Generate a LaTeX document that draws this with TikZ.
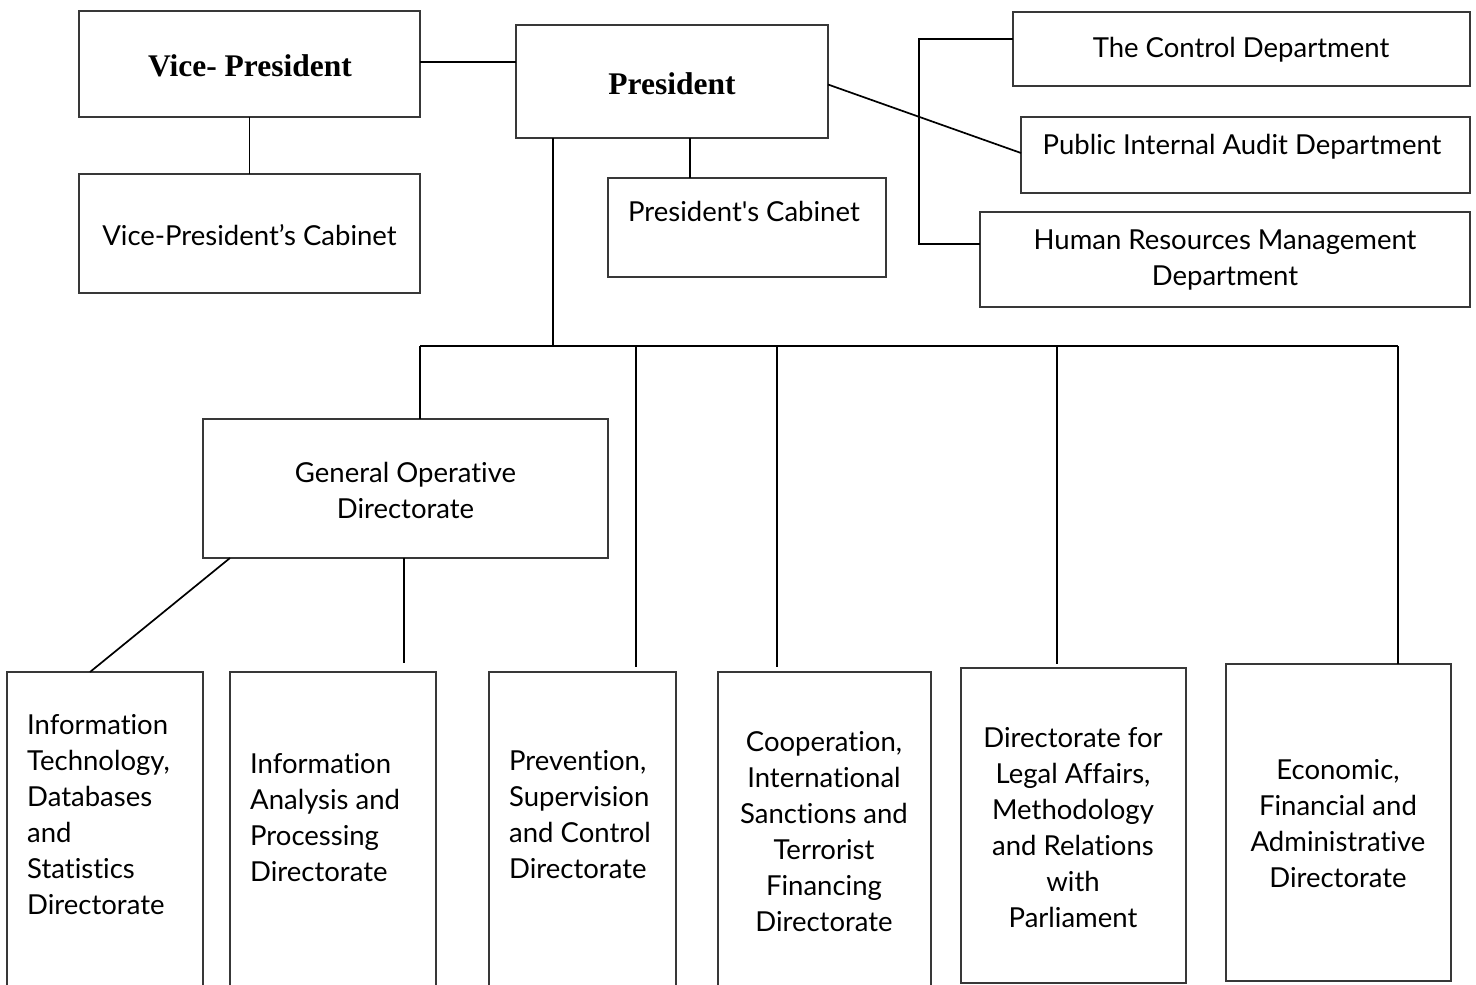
\documentclass[tikz,border=0pt]{standalone}
\usepackage{fontspec}
\setmainfont{Lato}[Ligatures={TeXOff,CommonOff}]
\newfontfamily\headfont{Liberation Serif}
\usetikzlibrary{calc}
\begin{document}
\begin{tikzpicture}[x=1pt,y=-1pt,
  box/.style={draw=black!78, line width=1.2pt, inner sep=0pt, outer sep=0pt, fill=white},
  link/.style={draw=black, line width=1.7pt},
  body/.style={font=\fontsize{27.5}{36}\selectfont, inner sep=0pt},
  head/.style={font=\headfont\bfseries\fontsize{31.5}{36}\selectfont, inner sep=0pt},
]
\useasboundingbox (0,0) rectangle (1476,985);
\begin{scope}
\clip (0,0) rectangle (1476,985);

% top level
\node[box, minimum width=341, minimum height=106] (vp) at (249.5,64) {};
\node[head] (vpT) at (250,66) {Vice- President};
\node[box, minimum width=341, minimum height=119] (vpc) at (249.5,233.5) {};
\node[body] (vpcT) at (249.5,235) {Vice-President’s Cabinet};
\node[box, minimum width=312, minimum height=113] (pres) at (672,81.5) {};
\node[head] (presT) at (672,84) {President};
\node[box, minimum width=278, minimum height=99] (pcab) at (747,227.5) {};
\node[body] (pcabT) at (744,211) {President's Cabinet};

% staff departments on the right
\node[box, minimum width=457, minimum height=74] (ctrl) at (1241.5,49) {};
\node[body] (ctrlT) at (1241,50) {The Control Department};
\node[box, minimum width=449, minimum height=76] (audit) at (1245.5,155) {};
\node[body] (auditT) at (1242,147) {Public Internal Audit Department};
\node[box, minimum width=490, minimum height=95] (hr) at (1225,259.5) {};
\node[body, align=center] (hrT) at (1225,260.5) {Human Resources Management\\Department};

% operative level
\node[box, minimum width=405, minimum height=139] (god) at (405.5,488.5) {};
\node[body, align=center] (godT) at (405.5,490) {General Operative\\Directorate};

% directorates
\node[box, minimum width=196, minimum height=340] (it) at (105,842) {};
\node[body, align=left, anchor=west] (itT) at (27,814.5) {Information\\Technology,\\Databases\\and\\Statistics\\Directorate};
\node[box, minimum width=206, minimum height=340] (iap) at (333,842) {};
\node[body, align=left, anchor=west] (iapT) at (250,817.5) {Information\\Analysis and\\Processing\\Directorate};
\node[box, minimum width=187, minimum height=340] (prev) at (582.5,842) {};
\node[body, align=left, anchor=west] (prevT) at (509,814.5) {Prevention,\\Supervision\\and Control\\Directorate};
\node[box, minimum width=213, minimum height=340] (coop) at (824.5,842) {};
\node[body, align=center] (coopT) at (824,832) {Cooperation,\\International\\Sanctions and\\Terrorist\\Financing\\Directorate};
\node[box, minimum width=225, minimum height=315] (legal) at (1073.5,825.5) {};
\node[body, align=center] (legalT) at (1073,828) {Directorate for\\Legal Affairs,\\Methodology\\and Relations\\with\\Parliament};
\node[box, minimum width=225, minimum height=317] (econ) at (1338.5,822.5) {};
\node[body, align=center] (econT) at (1338,824) {Economic,\\Financial and\\Administrative\\Directorate};

% junction points
\coordinate (pcJ) at (690,178);
\coordinate (bt) at (919,39);
\coordinate (bb) at (919,244);
\coordinate (tr) at (553,346);
\coordinate (d1) at (420,346);
\coordinate (d2) at (636,346);
\coordinate (d3) at (777,346);
\coordinate (d4) at (1057,346);
\coordinate (d5) at (1398,346);

% connectors
\draw[link] (vp.south) -- (vpc.north);
\draw[link] (vp.east |- 0,62) -- (pres.west |- 0,62);
\draw[link] (pcJ |- pres.south) -- (pcab.north -| pcJ);
\draw[link] ($(pres.east)+(0,3)$) -- ($(audit.west)+(0,-2)$);
\draw[link] (ctrl.west |- bt) -- (bt) -- (bb) -- (hr.west |- bb);
\draw[link] (tr |- pres.south) -- (tr);
\draw[link] (d1) -- (d5);
\draw[link] (d1) -- (d1 |- god.north);
\draw[link, shorten >=5pt] (d2) -- (d2 |- prev.north);
\draw[link, shorten >=5pt] (d3) -- (d3 |- coop.north);
\draw[link, shorten >=4pt] (d4) -- (d4 |- legal.north);
\draw[link] (d5) -- (d5 |- econ.north);
\draw[link] ($(god.south west)+(27,0)$) -- ($(it.north)+(-15,0)$);
\draw[link, shorten >=9pt] (god.south -| 404,0) -- (iap.north -| 404,0);
\end{scope}
\end{tikzpicture}
\end{document}
